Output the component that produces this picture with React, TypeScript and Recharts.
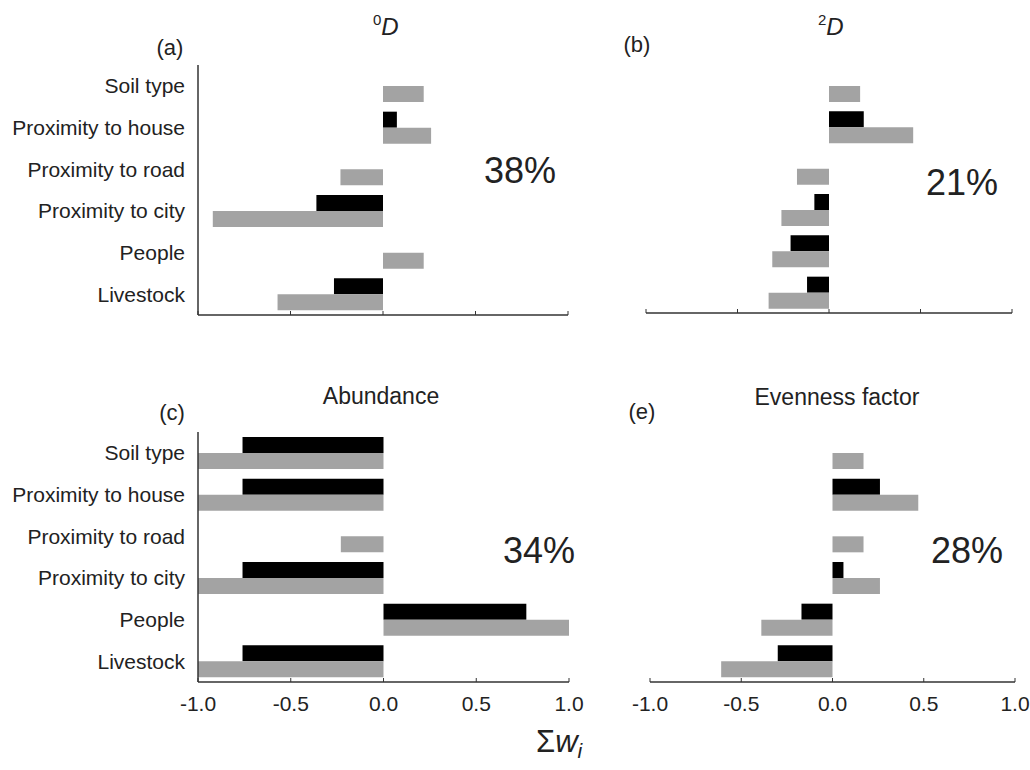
import { Bar, BarChart, XAxis, YAxis } from "recharts";

const categories = [
  "Soil type",
  "Proximity to house",
  "Proximity to road",
  "Proximity to city",
  "People",
  "Livestock",
];

// (a) 0D
const aBlack = [0, 0.075, 0, -0.36, 0, -0.265];
const aGray = [0.22, 0.26, -0.23, -0.92, 0.22, -0.57];
// (b) 2D
const bBlack = [0, 0.19, 0, -0.08, -0.21, -0.12];
const bGray = [0.17, 0.46, -0.175, -0.26, -0.31, -0.33];
// (c) Abundance
const cBlack = [-0.76, -0.76, 0, -0.76, 0.77, -0.76];
const cGray = [-1.0, -1.0, -0.23, -1.0, 1.0, -1.0];
// (e) Evenness factor
const eBlack = [0, 0.26, 0, 0.06, -0.17, -0.3];
const eGray = [0.17, 0.47, 0.17, 0.26, -0.39, -0.61];

const xTicks = [-1, -0.5, 0, 0.5, 1];

const FONT = "'Liberation Sans', Arial, sans-serif";
const AXIS = "#333333";
const GRAY = "#a3a3a3";

function rows(black: number[], gray: number[]) {
  return categories.map((name, i) => ({ name, black: black[i], gray: gray[i] }));
}

type PanelProps = {
  black: number[];
  gray: number[];
  left: number;
  top: number;
  width: number;
  height: number;
  margin: { top: number; right: number; left: number; bottom: number };
  showLabels: boolean;
  showTickLabels: boolean;
  axisHeight: number;
};

function Panel(p: PanelProps) {
  return (
    <div style={{ position: "absolute", left: p.left, top: p.top }}>
      <BarChart
        width={p.width}
        height={p.height}
        data={rows(p.black, p.gray)}
        layout="vertical"
        margin={p.margin}
        barSize={16}
        barGap={0}
      >
        <XAxis
          type="number"
          domain={[-1, 1]}
          ticks={xTicks}
          height={p.axisHeight}
          axisLine={{ stroke: AXIS, strokeWidth: 1.5 }}
          tickLine={{ stroke: AXIS }}
          tickSize={-4}
          tickMargin={18}
          tick={
            p.showTickLabels
              ? { fill: "#222", fontSize: 21, fontFamily: FONT }
              : () => <g />
          }
          tickFormatter={(v: number) => v.toFixed(1)}
        />
        <YAxis
          type="category"
          dataKey="name"
          width={p.showLabels ? 198 : 0}
          hide={!p.showLabels}
          axisLine={{ stroke: AXIS, strokeWidth: 1.5 }}
          tickLine={false}
          tickSize={0}
          tickMargin={13}
          tick={{ fill: "#222", fontSize: 21, fontFamily: FONT }}
        />
        <Bar dataKey="black" fill="#000000" isAnimationActive={false} />
        <Bar dataKey="gray" fill={GRAY} isAnimationActive={false} />
      </BarChart>
    </div>
  );
}

export default function App() {
  return (
    <div
      style={{
        position: "absolute",
        left: 0,
        top: 0,
        width: 1030,
        height: 770,
        background: "#fff",
        fontFamily: FONT,
      }}
    >
      <Panel
        black={aBlack}
        gray={aGray}
        left={0}
        top={0}
        width={600}
        height={340}
        margin={{ top: 65, right: 32, left: 0, bottom: 0 }}
        showLabels
        showTickLabels={false}
        axisHeight={25}
      />
      <Panel
        black={bBlack}
        gray={bGray}
        left={600}
        top={0}
        width={430}
        height={338}
        margin={{ top: 65, right: 18, left: 46, bottom: 0 }}
        showLabels={false}
        showTickLabels={false}
        axisHeight={25}
      />
      <Panel
        black={cBlack}
        gray={cGray}
        left={0}
        top={370}
        width={600}
        height={352}
        margin={{ top: 62, right: 31, left: 0, bottom: 0 }}
        showLabels
        showTickLabels
        axisHeight={40}
      />
      <Panel
        black={eBlack}
        gray={eGray}
        left={600}
        top={370}
        width={430}
        height={352}
        margin={{ top: 62, right: 15, left: 50, bottom: 0 }}
        showLabels={false}
        showTickLabels
        axisHeight={40}
      />
      <svg
        width={1030}
        height={770}
        style={{ position: "absolute", left: 0, top: 0, pointerEvents: "none" }}
        fontFamily={FONT}
        fill="#222"
      >
        <text x={170} y={47} fontSize={22} textAnchor="middle" dominantBaseline="central">(a)</text>
        <text x={373} y={35}>
          <tspan fontSize={15} dy={-10}>0</tspan>
          <tspan fontSize={24} fontStyle="italic" dy={10}>D</tspan>
        </text>
        <text x={520} y={170} fontSize={36} textAnchor="middle" dominantBaseline="central">38%</text>

        <text x={637} y={44} fontSize={22} textAnchor="middle" dominantBaseline="central">(b)</text>
        <text x={818} y={35}>
          <tspan fontSize={15} dy={-10}>2</tspan>
          <tspan fontSize={24} fontStyle="italic" dy={10}>D</tspan>
        </text>
        <text x={962} y={182} fontSize={36} textAnchor="middle" dominantBaseline="central">21%</text>

        <text x={172} y={412} fontSize={22} textAnchor="middle" dominantBaseline="central">(c)</text>
        <text x={381} y={396} fontSize={23} textAnchor="middle" dominantBaseline="central">Abundance</text>
        <text x={539} y={550} fontSize={36} textAnchor="middle" dominantBaseline="central">34%</text>

        <text x={642} y={411} fontSize={22} textAnchor="middle" dominantBaseline="central">(e)</text>
        <text x={837} y={397} fontSize={23} textAnchor="middle" dominantBaseline="central">Evenness factor</text>
        <text x={967} y={550} fontSize={36} textAnchor="middle" dominantBaseline="central">28%</text>

        <text x={536} y={752} fontSize={31}>
          <tspan>Σ</tspan>
          <tspan fontStyle="italic">w</tspan>
          <tspan fontStyle="italic" fontSize={21} dy={6}>i</tspan>
        </text>
      </svg>
    </div>
  );
}
